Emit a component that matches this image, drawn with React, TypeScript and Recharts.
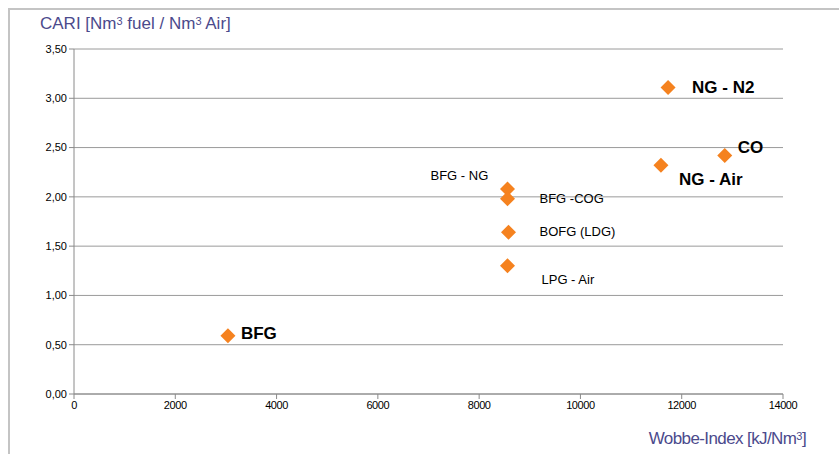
import React from 'react';
import { ScatterChart, Scatter, XAxis, YAxis, CartesianGrid, LabelList } from 'recharts';

const names = ['BFG', 'BFG - NG', 'BFG -COG', 'BOFG (LDG)', 'LPG - Air', 'NG - Air', 'CO', 'NG - N2'];
const wobbe = [3040, 8560, 8560, 8580, 8560, 11590, 12850, 11730];
const cari = [0.59, 2.08, 1.98, 1.64, 1.30, 2.32, 2.42, 3.11];
const xTicks = [0, 2000, 4000, 6000, 8000, 10000, 12000, 14000];
const yTicks = [0, 0.5, 1, 1.5, 2, 2.5, 3, 3.5];

const data = names.map((n, i) => ({ name: n, x: wobbe[i], y: cari[i] }));

// label placement/style (not data)
const labelStyle: Record<string, { dx: number; dy: number; bold: boolean }> = {
  'BFG': { dx: 13, dy: -2, bold: true },
  'BFG - NG': { dx: -77, dy: -13, bold: false },
  'BFG -COG': { dx: 32, dy: 0, bold: false },
  'BOFG (LDG)': { dx: 31, dy: -1, bold: false },
  'LPG - Air': { dx: 34, dy: 14, bold: false },
  'NG - Air': { dx: 18, dy: 14, bold: true },
  'CO': { dx: 13, dy: -8, bold: true },
  'NG - N2': { dx: 24, dy: 0, bold: true },
};

const ORANGE = '#F5821F';
const SANS = '"Liberation Sans", Arial, sans-serif';

const Diamond = (props: any) => {
  const { cx, cy } = props;
  const r = 7.5;
  return (
    <path
      d={`M${cx},${cy - r} L${cx + r},${cy} L${cx},${cy + r} L${cx - r},${cy} Z`}
      fill={ORANGE}
    />
  );
};

const PointLabel = (props: any) => {
  const { x, y, width, height, value } = props;
  const s = labelStyle[value];
  if (!s) return null;
  const cx = x + (width || 0) / 2;
  const cy = y + (height || 0) / 2;
  return (
    <text
      x={cx + s.dx}
      y={cy + s.dy}
      dominantBaseline="central"
      fontFamily={SANS}
      fontSize={s.bold ? 17 : 13}
      fontWeight={s.bold ? 'bold' : 'normal'}
      fill="#000"
    >
      {value}
    </text>
  );
};

const fmtY = (v: number) => v.toFixed(2).replace('.', ',');

export default function App() {
  return (
    <div style={{ position: 'absolute', left: 0, top: 0, width: 839, height: 454, background: '#fff', overflow: 'hidden' }}>
      <div
        style={{
          position: 'absolute',
          left: 8,
          top: 8,
          width: 840,
          height: 460,
          borderTop: '2px solid #c4c4c4',
          borderLeft: '2px solid #c4c4c4',
          boxSizing: 'border-box',
        }}
      />
      <div
        style={{
          position: 'absolute',
          left: 40,
          top: 14,
          fontFamily: SANS,
          fontSize: 17,
          lineHeight: '20px',
          color: '#4B4A8C',
          whiteSpace: 'nowrap',
        }}
      >
        CARI [Nm<sup style={{ fontSize: 11, verticalAlign: 'top', lineHeight: '14px' }}>3</sup> fuel / Nm<sup style={{ fontSize: 11, verticalAlign: 'top', lineHeight: '14px' }}>3</sup> Air]
      </div>
      <div
        style={{
          position: 'absolute',
          right: 33,
          top: 429,
          fontFamily: SANS,
          fontSize: 17,
          lineHeight: '20px',
          color: '#4B4A8C',
          whiteSpace: 'nowrap',
          letterSpacing: -0.6,
        }}
      >
        Wobbe-Index [kJ/Nm<sup style={{ fontSize: 11, verticalAlign: 'top', lineHeight: '14px' }}>3</sup>]
      </div>
      <div style={{ position: 'absolute', left: 0, top: 0 }}>
        <ScatterChart width={839} height={454} margin={{ top: 49, right: 56, bottom: 30, left: 34 }}>
          <CartesianGrid vertical={false} stroke="#9a9a9a" strokeWidth={1} />
          <XAxis
            type="number"
            dataKey="x"
            domain={[0, 14000]}
            ticks={xTicks}
            interval={0}
            height={30}
            axisLine={{ stroke: '#8a8a8a' }}
            tickLine={{ stroke: '#8a8a8a' }}
            tickSize={5}
            tick={{ fill: '#000', fontSize: 11, fontFamily: SANS, letterSpacing: -0.4 }}
          />
          <YAxis
            type="number"
            dataKey="y"
            domain={[0, 3.5]}
            ticks={yTicks}
            interval={0}
            width={40}
            tickFormatter={fmtY}
            axisLine={{ stroke: '#8a8a8a' }}
            tickLine={{ stroke: '#8a8a8a' }}
            tickSize={5}
            tick={{ fill: '#000', fontSize: 11, fontFamily: SANS }}
          />
          <Scatter data={data} shape={<Diamond />} isAnimationActive={false}>
            <LabelList dataKey="name" content={<PointLabel />} />
          </Scatter>
        </ScatterChart>
      </div>
    </div>
  );
}
